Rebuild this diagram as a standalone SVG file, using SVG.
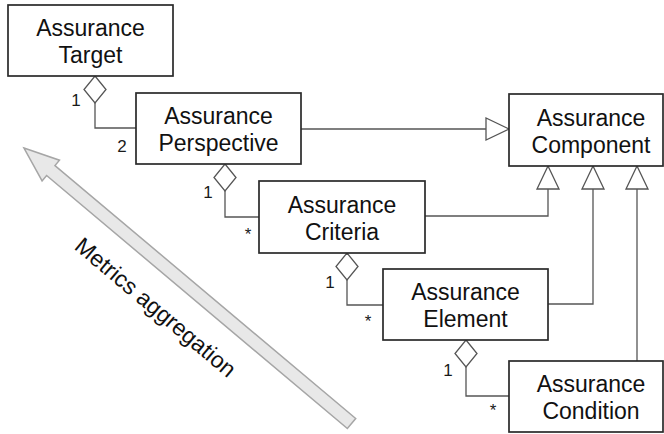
<svg xmlns="http://www.w3.org/2000/svg" width="664" height="434" viewBox="0 0 664 434">
<style>
.box{fill:#fff;stroke:#2a2a2a;stroke-width:1.7}
.lbl{font-family:"Liberation Sans",Arial,sans-serif;font-size:23px;fill:#111;text-anchor:middle}
.mult{font-family:"Liberation Sans",Arial,sans-serif;font-size:17px;fill:#1a1a1a;text-anchor:middle}
.con{fill:none;stroke:#555;stroke-width:1.3}
.agg{marker-start:url(#diamond)}
.gen{marker-end:url(#tri)}
</style>
<defs>
<marker id="diamond" markerUnits="userSpaceOnUse" markerWidth="30" markerHeight="30" refX="0" refY="0" orient="auto" overflow="visible">
<path d="M0,0 L13.5,-11 L27,0 L13.5,11 Z" fill="#fff" stroke="#555" stroke-width="1.3"/>
</marker>
<marker id="tri" markerUnits="userSpaceOnUse" markerWidth="30" markerHeight="30" refX="0" refY="0" orient="auto" overflow="visible">
<path d="M0,0 L-23,-11 L-23,11 Z" fill="#fff" stroke="#555" stroke-width="1.3"/>
</marker>
</defs>
<g id="aggregation-arrow">
<g transform="translate(24,148) rotate(40.07)">
<polygon points="0,0 35,-13.5 35,-6.5 428,-6.5 428,6.5 35,6.5 35,13.5" fill="#e8e8e8" stroke="#a6a6a6" stroke-width="1.5"/>
</g>
<text class="lbl" transform="translate(155,308) rotate(40.07)" x="0" y="7">Metrics aggregation</text>
</g>
<g id="connectors">
<path class="con agg" d="M95,76 V128 H136"/>
<path class="con agg" d="M225,164 V217 H259"/>
<path class="con agg" d="M347,253 V305 H383"/>
<path class="con agg" d="M466,340 V396 H509"/>
<path class="con gen" d="M301,129 H509"/>
<path class="con gen" d="M425,216 H548 V166"/>
<path class="con gen" d="M548,304 H593 V166"/>
<path class="con gen" d="M637,361 V166"/>
<text class="mult" x="76" y="106">1</text>
<text class="mult" x="122" y="152">2</text>
<text class="mult" x="208" y="198">1</text>
<text class="mult" x="248" y="240">*</text>
<text class="mult" x="330" y="288">1</text>
<text class="mult" x="368" y="327">*</text>
<text class="mult" x="448" y="376">1</text>
<text class="mult" x="493" y="416">*</text>
</g>
<g id="target">
<rect class="box" x="8" y="5" width="165" height="71"/>
<text class="lbl" x="90.5" y="36">Assurance</text>
<text class="lbl" x="90.5" y="63">Target</text>
</g>
<g id="perspective">
<rect class="box" x="136" y="93" width="165" height="71"/>
<text class="lbl" x="218.5" y="124">Assurance</text>
<text class="lbl" x="218.5" y="151">Perspective</text>
</g>
<g id="component">
<rect class="box" x="509" y="94" width="154" height="72"/>
<text class="lbl" x="591" y="126">Assurance</text>
<text class="lbl" x="591" y="153">Component</text>
</g>
<g id="criteria">
<rect class="box" x="259" y="181" width="166" height="72"/>
<text class="lbl" x="342" y="213">Assurance</text>
<text class="lbl" x="342" y="240">Criteria</text>
</g>
<g id="element">
<rect class="box" x="383" y="269" width="165" height="71"/>
<text class="lbl" x="465.5" y="300">Assurance</text>
<text class="lbl" x="465.5" y="327">Element</text>
</g>
<g id="condition">
<rect class="box" x="509" y="361" width="154" height="71"/>
<text class="lbl" x="591" y="392">Assurance</text>
<text class="lbl" x="591" y="419">Condition</text>
</g>
</svg>
